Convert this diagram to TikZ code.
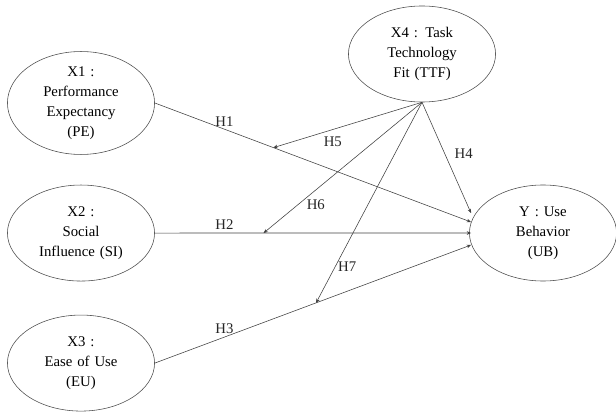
\documentclass[tikz,border=0pt]{standalone}
\usepackage{fontspec}
\setmainfont{Liberation Serif}
\usepackage{tikz}
\usetikzlibrary{arrows.meta, positioning, shapes.geometric}

\begin{document}
\begin{tikzpicture}[->, >={Stealth[length=3pt, width=2.6pt]}, thin, x=0.025cm, y=-0.025cm, node distance=3.25cm, font=\fontsize{10.5}{14.2}\selectfont]
    \tikzstyle{construct}=[ellipse, draw=black!70, minimum width=3.65cm, minimum height=2.4cm, inner sep=0pt, text width=2.6cm, align=center, fill=none]
    \tikzstyle{hyp}=[inner sep=2pt, text=black!85]
    \useasboundingbox (0,0) rectangle (616,412);

    \node[construct]    (PE)  at (81,103)    {X1 :\\ Performance\\ Expectancy\\ (PE)};
    \node[construct]    (SI)  [below of=PE]  {X2 :\\ Social\\ Influence (SI)};
    \node[construct]    (EU)  [below of=SI]  {X3 :\\ Ease of Use\\ (EU)};
    \node[construct]    (TTF) at (422,54)    {X4 : Task\\ Technology\\ Fit (TTF)};
    \node[construct, minimum width=3.55cm] (UB) at (543,233) {Y : Use\\ Behavior\\ (UB)};

    % arrow ends in front of UB
    \coordinate (t4) at (471,213);
    \coordinate (t1) at (471,222);
    \coordinate (t2) at (471,233);
    \coordinate (t3) at (471,245);

    \draw[black!75] (PE.east) -- node[hyp, above, pos=0.22] {H1} coordinate[pos=0.375] (m1) (t1);
    \draw[black!75] (SI.east) -- node[hyp, above, pos=0.22] {H2} coordinate[pos=0.344] (m2) (t2);
    \draw[black!75] (EU.east) -- node[hyp, above, pos=0.22] {H3} coordinate[pos=0.51] (m3) (t3);

    % moderation by TTF
    \draw[black!75] (TTF.south) -- node[hyp, right, pos=0.46, xshift=5pt] {H4} (t4);
    \draw[black!75] (TTF.south) -- node[hyp, below, pos=0.6, yshift=-3pt] {H5} (m1);
    \draw[black!75] (TTF.south) -- node[hyp, below right, pos=0.72, xshift=-3pt] {H6} (m2);
    \draw[black!75] (TTF.south) -- node[hyp, right, pos=0.82] {H7} (m3);

\end{tikzpicture}
\end{document}
